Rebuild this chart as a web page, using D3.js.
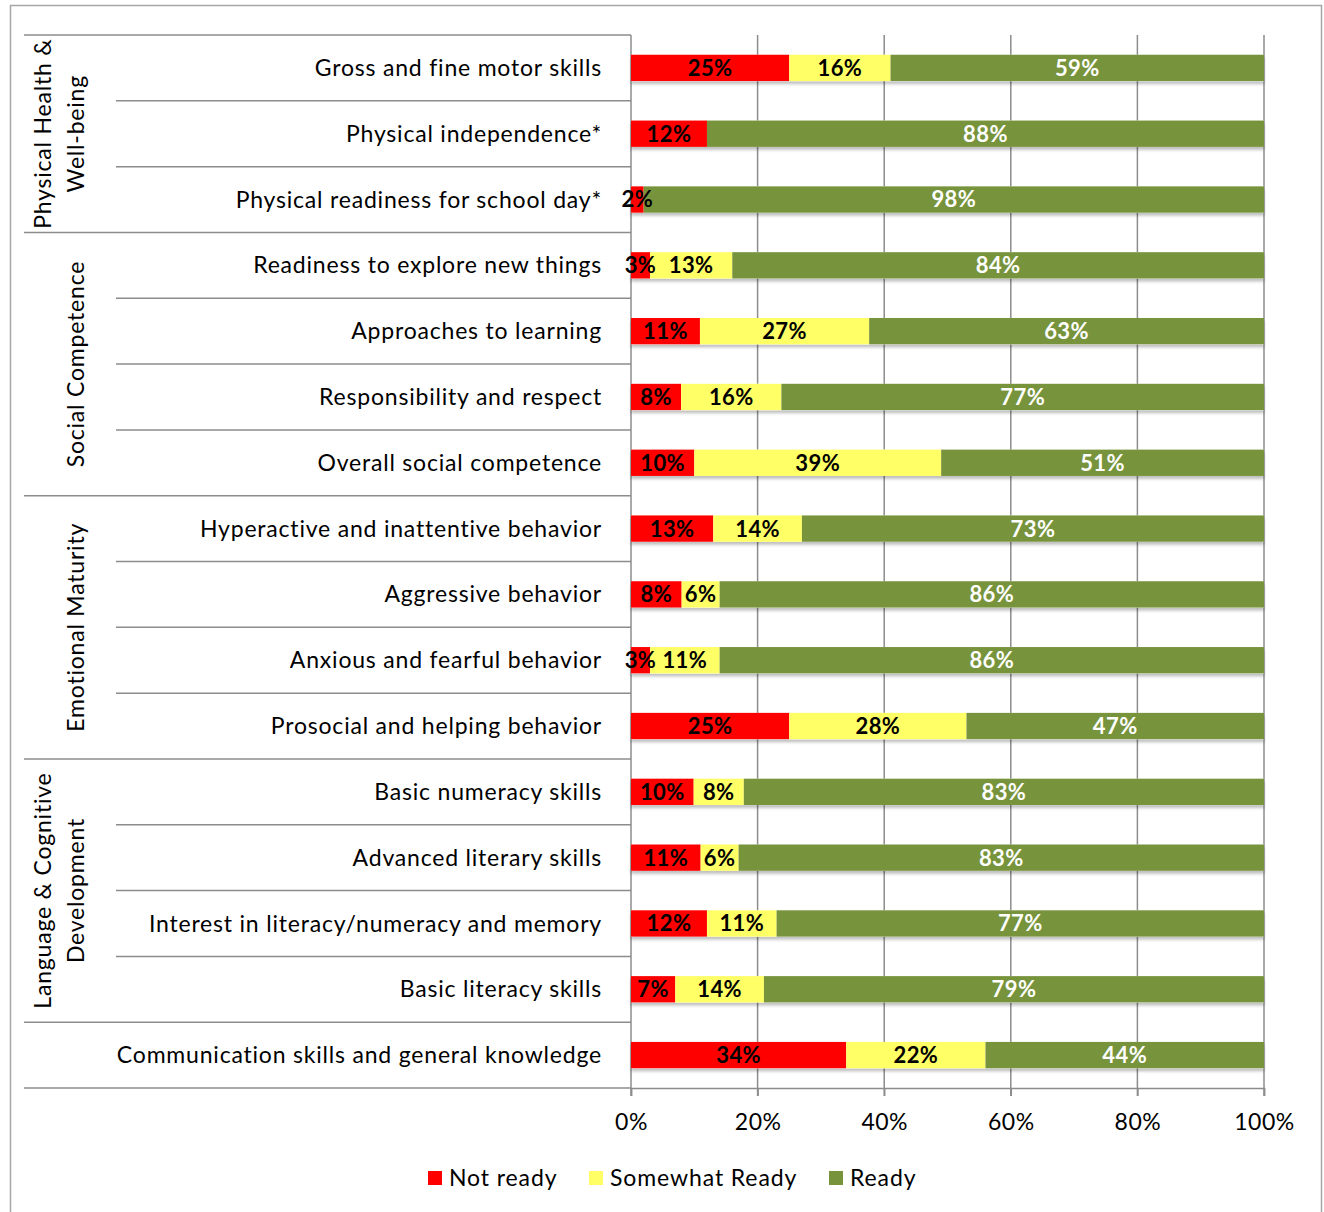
<!DOCTYPE html>
<html>
<head>
<meta charset="utf-8">
<script src="https://cdn.jsdelivr.net/npm/d3@7"></script>
<style>
  html, body { margin: 0; padding: 0; background: #fff; }
  svg { display: block; }
  text { font-family: Lato, "Open Sans", sans-serif; }
</style>
</head>
<body>
<svg id="chart" width="1324" height="1212"></svg>
<script>
const categories = [
  "Gross and fine motor skills",
  "Physical independence*",
  "Physical readiness for school day*",
  "Readiness to explore new things",
  "Approaches to learning",
  "Responsibility and respect",
  "Overall social competence",
  "Hyperactive and inattentive behavior",
  "Aggressive behavior",
  "Anxious and fearful behavior",
  "Prosocial and helping behavior",
  "Basic numeracy skills",
  "Advanced literary skills",
  "Interest in literacy/numeracy and memory",
  "Basic literacy skills",
  "Communication skills and general knowledge"
];
const notReady =      [25, 12, 2, 3, 11, 8, 10, 13, 8, 3, 25, 10, 11, 12, 7, 34];
const somewhatReady = [16, 0, 0, 13, 27, 16, 39, 14, 6, 11, 28, 8, 6, 11, 14, 22];
const ready =         [59, 88, 98, 84, 63, 77, 51, 73, 86, 86, 47, 83, 83, 77, 79, 44];

const seriesNames = ["Not ready", "Somewhat Ready", "Ready"];
const seriesColors = ["#FF0000", "#FFFF66", "#77933C"];
const labelColors = ["#000", "#000", "#fff"];

const groupLines = [["Physical Health &", "Well-being"], ["Social Competence"], ["Emotional Maturity"], ["Language & Cognitive", "Development"]];
const groupStart = [0, 3, 7, 11];
const groupCount = [3, 4, 4, 4];

const xTicks = [0, 0.2, 0.4, 0.6, 0.8, 1.0];

const svg = d3.select("#chart");

// outer border
svg.append("rect").attr("x", 10.5).attr("y", 5.5).attr("width", 1311).attr("height", 1230)
  .attr("fill", "none").attr("stroke", "#a6a6a6").attr("stroke-width", 1.5);

const x = d3.scaleLinear().domain([0, 1]).range([631, 1264]);
const y = d3.scaleBand().domain(categories).range([35, 1088]).paddingInner(0.6).paddingOuter(0.3);
const step = y.step();
const gap = (step - y.bandwidth()) / 2;
const boundary = i => y(categories[i]) - gap;

const defs = svg.append("defs");
const f = defs.append("filter").attr("id", "sh").attr("x", "-5%").attr("y", "-30%").attr("width", "110%").attr("height", "180%");
f.append("feDropShadow").attr("dx", 0).attr("dy", 3).attr("stdDeviation", 1.5).attr("flood-color", "#000").attr("flood-opacity", 0.25);

// gridlines
const grid = svg.append("g");
grid.selectAll("line").data(xTicks).join("line")
  .attr("x1", d => x(d)).attr("x2", d => x(d))
  .attr("y1", 35).attr("y2", 1096)
  .attr("stroke", "#8c8c8c").attr("stroke-width", 1.5);

// x axis
const xAxis = svg.append("g").attr("transform", "translate(0,1088)")
  .call(d3.axisBottom(x).tickValues(xTicks).tickFormat(d3.format(".0%")).tickSize(8).tickPadding(18));
xAxis.select(".domain").attr("stroke", "#8c8c8c").attr("stroke-width", 1.5);
xAxis.selectAll(".tick line").attr("stroke", "#8c8c8c").attr("stroke-width", 1.5);
xAxis.selectAll(".tick text").attr("font-size", 23).attr("letter-spacing", "0.5px")
  .attr("fill", "#000").attr("font-family", "Lato, sans-serif");

// category boundary lines
const isGroupBoundary = new Set([0, 3, 7, 11, 15, 16]);
const bIdx = d3.range(0, categories.length + 1);
svg.append("g").selectAll("line").data(bIdx).join("line")
  .attr("x1", d => isGroupBoundary.has(d) ? 24 : 116)
  .attr("x2", 631)
  .attr("y1", d => d < categories.length ? boundary(d) : boundary(categories.length - 1) + step)
  .attr("y2", d => d < categories.length ? boundary(d) : boundary(categories.length - 1) + step)
  .attr("stroke", "#8c8c8c").attr("stroke-width", 1.5);

// category labels
svg.append("g").selectAll("text").data(categories).join("text")
  .attr("x", 602).attr("y", d => y(d) + y.bandwidth() / 2)
  .attr("dy", "0.35em").attr("text-anchor", "end")
  .attr("font-size", 23).attr("letter-spacing", "0.8px").attr("fill", "#000")
  .text(d => d);

// group labels
groupLines.forEach((lines, gi) => {
  const top = boundary(groupStart[gi]);
  const bottom = top + step * groupCount[gi];
  const cy = (top + bottom) / 2;
  const xs = lines.length === 2 ? [43, 76] : [76];
  lines.forEach((ln, li) => {
    svg.append("text")
      .attr("transform", `translate(${xs[li]},${cy}) rotate(-90)`)
      .attr("text-anchor", "middle").attr("dy", "0.35em")
      .attr("font-size", 23).attr("letter-spacing", "0.8px").attr("fill", "#000")
      .text(ln);
  });
});

// stacked bars
const rows = categories.map((c, i) => {
  const vals = [notReady[i], somewhatReady[i], ready[i]];
  const total = d3.sum(vals);
  let acc = 0;
  return vals.map((v, s) => {
    const seg = { cat: c, s, v, x0: acc / total, x1: (acc + v) / total };
    acc += v;
    return seg;
  });
});
const segs = rows.flat();

const bars = svg.append("g");
bars.selectAll("rect.sh").data(rows).join("rect")
  .attr("x", x(0)).attr("y", d => y(d[0].cat))
  .attr("width", x(1) - x(0)).attr("height", y.bandwidth())
  .attr("fill", "#fff").attr("filter", "url(#sh)");
bars.selectAll("rect.seg").data(segs.filter(d => d.v > 0)).join("rect")
  .attr("x", d => x(d.x0)).attr("y", d => y(d.cat))
  .attr("width", d => x(d.x1) - x(d.x0)).attr("height", y.bandwidth())
  .attr("fill", d => seriesColors[d.s]);

bars.selectAll("text").data(segs.filter(d => d.v > 0)).join("text")
  .attr("x", d => (x(d.x0) + x(d.x1)) / 2).attr("y", d => y(d.cat) + y.bandwidth() / 2)
  .attr("dy", "0.36em").attr("text-anchor", "middle")
  .attr("font-size", 22).attr("letter-spacing", "0.4px").attr("font-weight", "bold")
  .attr("fill", d => labelColors[d.s])
  .text(d => d.v + "%");

// legend
const legX = [428, 589, 829];
const leg = svg.append("g");
seriesNames.forEach((n, i) => {
  leg.append("rect").attr("x", legX[i]).attr("y", 1171).attr("width", 14).attr("height", 14).attr("fill", seriesColors[i]);
  leg.append("text").attr("x", legX[i] + 21).attr("y", 1178).attr("dy", "0.35em")
    .attr("font-size", 23).attr("letter-spacing", "0.9px").attr("fill", "#000").text(n);
});
</script>
</body>
</html>
